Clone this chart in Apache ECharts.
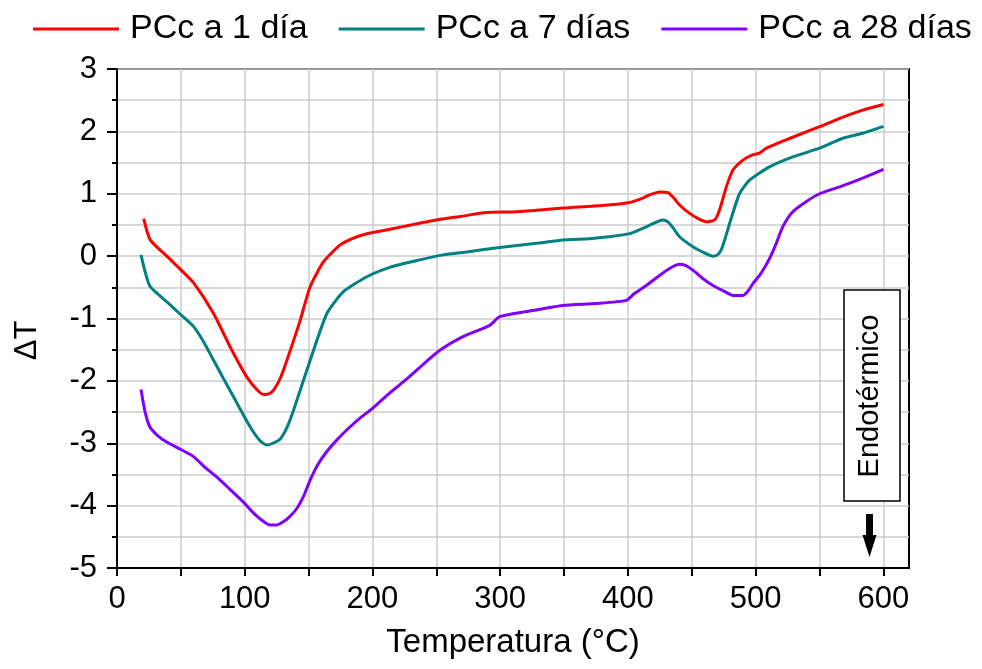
<!DOCTYPE html>
<html>
<head>
<meta charset="utf-8">
<script src="https://cdn.jsdelivr.net/npm/echarts@6/dist/echarts.min.js"></script>
<style>
html,body{margin:0;padding:0;background:#fff;}
#chart{width:982px;height:669px;}
</style>
</head>
<body>
<div id="chart"></div>
<script>
// ---- data ----
const seriesNames = ['PCc a 1 día', 'PCc a 7 días', 'PCc a 28 días'];
const seriesColors = ['#ff0000', '#008080', '#8000ff'];

const pcc1 = [[20.9,0.6],[26,0.26],[40,-0.02],[50,-0.22],[60,-0.43],[75.6,-0.92],[88.7,-1.46],[101.7,-1.94],[110,-2.15],[115,-2.22],[119,-2.21],[122.6,-2.15],[128,-1.95],[133,-1.67],[143.4,-1.03],[151.2,-0.49],[161.7,-0.09],[174.7,0.18],[185,0.29],[195.6,0.36],[213.6,0.43],[230,0.5],[250,0.58],[270,0.64],[289.2,0.70],[312.7,0.71],[349,0.77],[380,0.81],[400,0.855],[409,0.91],[418,0.99],[424.8,1.03],[431.3,1.02],[436,0.93],[440.4,0.82],[448.3,0.685],[455,0.6],[461.3,0.55],[467.8,0.58],[471.7,0.74],[477,1.11],[482.2,1.38],[490,1.54],[497,1.62],[503,1.65],[508.3,1.73],[527,1.89],[550,2.075],[565.7,2.21],[583.8,2.34],[600,2.43]];

const pcc7 = [[18.8,0.02],[22,-0.25],[26,-0.49],[40,-0.75],[50,-0.94],[60,-1.13],[68,-1.38],[75.6,-1.67],[91.3,-2.26],[104.3,-2.74],[112,-2.96],[117.3,-3.03],[122,-3.0],[127.8,-2.93],[133,-2.75],[138.2,-2.47],[151.2,-1.67],[164.3,-0.92],[177.3,-0.57],[195.6,-0.33],[213.6,-0.18],[235,-0.07],[255.3,0.02],[275,0.07],[299.6,0.14],[330,0.21],[349,0.26],[370,0.28],[385,0.31],[401.3,0.36],[414.3,0.47],[427.4,0.58],[431.3,0.55],[435,0.46],[440.4,0.31],[450.8,0.15],[458,0.07],[466.5,0.0],[470,0.02],[473,0.1],[476,0.28],[479.5,0.52],[487.3,1.0],[495.2,1.22],[510.8,1.43],[529,1.59],[550,1.73],[568.2,1.89],[583.8,1.97],[600,2.08]];

const pcc28 = [[18.8,-2.14],[22,-2.5],[25.8,-2.74],[32,-2.88],[38.9,-2.98],[50,-3.1],[59.7,-3.21],[68,-3.37],[78,-3.54],[88,-3.73],[98.8,-3.94],[106,-4.1],[111.9,-4.21],[119.7,-4.31],[125,-4.31],[130.1,-4.26],[135,-4.18],[140.6,-4.05],[146,-3.85],[151,-3.6],[157,-3.35],[164,-3.14],[172,-2.95],[182.3,-2.74],[190,-2.6],[200,-2.44],[212,-2.22],[225,-2.0],[240,-1.73],[252.7,-1.51],[270,-1.3],[291.8,-1.11],[299.6,-0.97],[320,-0.89],[349,-0.79],[375,-0.76],[398.7,-0.71],[405,-0.6],[414.3,-0.47],[427.4,-0.27],[435,-0.17],[440.4,-0.13],[445,-0.15],[450.8,-0.225],[458,-0.35],[466.5,-0.47],[475,-0.56],[482.2,-0.63],[490,-0.63],[494,-0.56],[497.8,-0.44],[504,-0.28],[510.8,-0.04],[516,0.2],[521.2,0.47],[529,0.71],[540,0.88],[550,1.0],[565.7,1.11],[583.8,1.25],[600,1.39]];

const xLabelValues = [0,100,200,300,400,500,600];
const xTickValues = [0,50,100,150,200,250,300,350,400,450,500,550,600];
const xName = 'Temperatura (°C)';
const yName = 'ΔT';
const annotationText = 'Endotérmico';

// ---- chart ----
const FONT = "'Liberation Sans', Arial, Helvetica, sans-serif";
const chart = echarts.init(document.getElementById('chart'), null, {renderer: 'canvas'});
const allData = [pcc1, pcc7, pcc28];

const option = {
  animation: false,
  backgroundColor: '#fff',
  textStyle: {fontFamily: FONT},
  legend: {
    left: 28, top: 7,
    itemWidth: 86, itemHeight: 3, itemGap: 31,
    icon: 'rect',
    textStyle: {fontSize: 34, color: '#000', fontFamily: FONT, padding: [0,0,0,6]},
    data: seriesNames
  },
  grid: {
    left: 117, right: 73, top: 69, bottom: 101,
    show: true, borderColor: '#000', borderWidth: 2, backgroundColor: 'transparent'
  },
  xAxis: {
    type: 'value', min: 0, max: 620, interval: 50, position: 'bottom',
    name: xName, nameLocation: 'middle', nameGap: 58,
    nameTextStyle: {fontSize: 33, color: '#000', fontFamily: FONT},
    axisLine: {show: true, onZero: false, lineStyle: {color: '#000', width: 2}},
    axisTick: {show: true, length: 8, customValues: xTickValues, lineStyle: {color: '#000', width: 2}},
    axisLabel: {customValues: xLabelValues, fontSize: 31, color: '#000', margin: 16, fontFamily: FONT},
    splitLine: {show: true, lineStyle: {color: '#cccccc', width: 1.5}}
  },
  yAxis: {
    type: 'value', min: -5, max: 3, interval: 1,
    name: yName, nameLocation: 'middle', nameGap: 74, nameRotate: 90,
    nameTextStyle: {fontSize: 31, color: '#000', fontFamily: FONT, padding: [0, 44, 0, 0]},
    axisLine: {show: true, onZero: false, lineStyle: {color: '#000', width: 2}},
    axisTick: {show: true, length: 10, lineStyle: {color: '#000', width: 2}},
    minorTick: {show: true, splitNumber: 2, length: 5, lineStyle: {color: '#000', width: 2}},
    axisLabel: {fontSize: 31, color: '#000', margin: 20, fontFamily: FONT},
    splitLine: {show: true, lineStyle: {color: '#cccccc', width: 1.5}},
    minorSplitLine: {show: true, lineStyle: {color: '#cccccc', width: 1.5}}
  },
  series: seriesNames.map((n, i) => ({
    name: n, type: 'line', data: allData[i],
    showSymbol: false, symbol: 'none', smooth: 0.2,
    color: seriesColors[i],
    lineStyle: {color: seriesColors[i], width: 3}
  })),
  graphic: [
    {type: 'rect', shape: {x: 844, y: 290, width: 56, height: 211},
     style: {fill: '#fff', stroke: '#000', lineWidth: 1.5}, z: 100},
    {type: 'text', x: 870, y: 396, rotation: Math.PI / 2,
     style: {text: annotationText, fontSize: 29, fontFamily: FONT, fill: '#000', align: 'center', verticalAlign: 'middle'}, z: 101},
    {type: 'polygon', shape: {points: [[866,514],[873,514],[873,535],[876.5,535],[869.5,557],[862.5,535],[866,535]]},
     style: {fill: '#000'}, z: 101}
  ]
};
chart.setOption(option);
</script>
</body>
</html>
